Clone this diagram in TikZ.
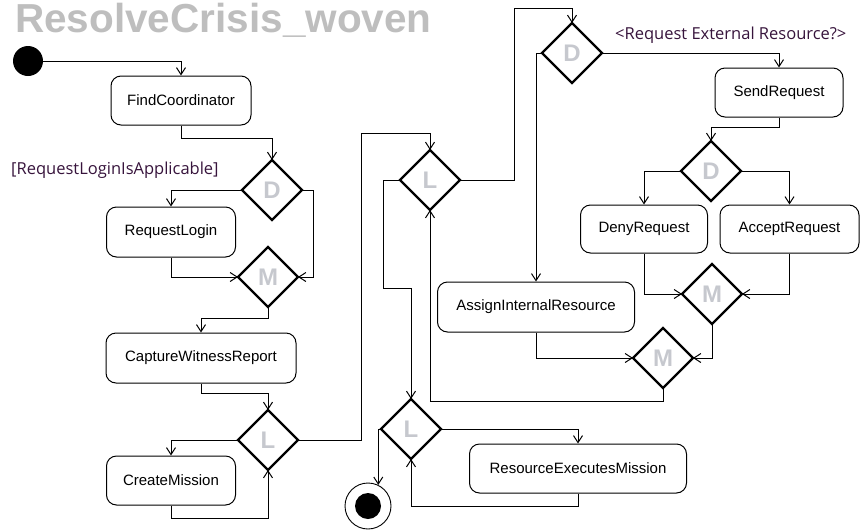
\documentclass[tikz,border=0pt]{standalone}
\usepackage{fontspec}
\setmainfont{Liberation Sans}
\newfontfamily\labelfont{Open Sans}
\usetikzlibrary{shapes.geometric,arrows.meta}
\definecolor{titlegray}{RGB}{190,190,190}
\definecolor{lettergray}{RGB}{198,200,206}
\definecolor{guardcol}{RGB}{55,20,60}
\tikzset{
  act/.style={draw, line width=1pt, rounded corners=10pt, inner sep=0pt, font=\fontsize{15}{18}\selectfont},
  dia/.style={draw, diamond, line width=2.4pt, minimum width=60pt, minimum height=60pt, inner sep=0pt, outer sep=0pt,
              text=lettergray, font=\fontsize{24}{26}\selectfont\bfseries},
  flow/.style={line width=1pt, -{Straight Barb[length=7pt,width=9pt,line width=1pt]}},
  guard/.style={text=guardcol, font=\labelfont\fontsize{16.5}{18}\selectfont, inner sep=0pt},
}
\begin{document}
\begin{tikzpicture}[x=1pt,y=-1pt]
\useasboundingbox (0,0) rectangle (860,531);
\node[anchor=base west, inner sep=0pt, text=titlegray, font=\fontsize{40.5}{44}\selectfont\bfseries] (title) at (15,32) {ResolveCrisis\_woven};

\node[circle, fill=black, minimum size=30pt, inner sep=0pt] (start) at (28,61) {};
\node[act, minimum width=140pt, minimum height=49pt] (fc) at (181,100.5) {FindCoordinator};
\node[dia] (d1) at (272,190) {D};
\node[act, minimum width=129pt, minimum height=50pt] (rl) at (171,232) {RequestLogin};
\node[dia] (m1) at (268,277) {M};
\node[act, minimum width=190pt, minimum height=50pt] (cwr) at (201,358) {CaptureWitnessReport};
\node[dia] (l1) at (268,440) {L};
\node[act, minimum width=129pt, minimum height=49pt] (cm) at (171,480.5) {CreateMission};

\node[dia] (l2) at (430,180) {L};
\node[dia] (d2) at (572,53) {D};
\node[act, minimum width=128pt, minimum height=49pt] (sr) at (779,92.5) {SendRequest};
\node[dia] (d3) at (711,171) {D};
\node[act, minimum width=127pt, minimum height=48pt] (deny) at (644,229) {DenyRequest};
\node[act, minimum width=139pt, minimum height=48pt] (acc) at (789.5,229) {AcceptRequest};
\node[dia] (m2) at (712,294) {M};
\node[act, minimum width=197pt, minimum height=50pt] (air) at (536,307) {AssignInternalResource};
\node[dia] (m3) at (663,358) {M};
\node[dia] (l3) at (411,429) {L};
\node[act, minimum width=217pt, minimum height=49pt] (rem) at (578,468.5) {ResourceExecutesMission};
\node[circle, draw, line width=0.9pt, minimum size=46pt, inner sep=0pt] (end) at (368,506) {};
\node[circle, fill=black, minimum size=26pt, inner sep=0pt] (endin) at (368,506) {};

\node[guard, anchor=west] (g1) at (11,170) {[RequestLoginIsApplicable]};
\node[guard, anchor=west] (g2) at (615,35) {<Request External Resource?>};

\draw[flow] (start.east) -| (fc.north);
\draw[flow] (fc.south) -- ++(0,13) -| (d1.north);
\draw[flow] (d1.west) -| (rl.north);
\draw[flow] (d1.east) -- ++(11,0) |- (m1.east);
\draw[flow] (rl.south) |- (m1.west);
\draw[flow] (m1.south) -- ++(0,11) -| (cwr.north);
\draw[flow] (cwr.south) -- ++(0,10) -| (l1.north);
\draw[flow] (l1.west) -| (cm.north);
\draw[flow] (cm.south) -- ++(0,13) -| (l1.south);
\draw[flow] (l1.east) -| (361,133) -| (l2.north);
\draw[flow] (l2.east) -| (514,8) -| (d2.north);
\draw[flow] (d2.east) -| (sr.north);
\draw[flow] (d2.west) -| (air.north);
\draw[flow] (sr.south) -- ++(0,10) -| (d3.north);
\draw[flow] (d3.west) -| (deny.north);
\draw[flow] (d3.east) -| (acc.north);
\draw[flow] (deny.south) |- (m2.west);
\draw[flow] (acc.south) |- (m2.east);
\draw[flow] (m2.south) |- (m3.east);
\draw[flow] (air.south) |- (m3.west);
\draw[flow] (m3.south) -- ++(0,13) -| (l2.south);
\draw[flow] (l2.west) -| (383,288) -| (l3.north);
\draw[flow] (l3.east) -| (rem.north);
\draw[flow] (rem.south) -- ++(0,13) -| (l3.south);
\draw[flow] (l3.west) -| (end.64);
\end{tikzpicture}
\end{document}
